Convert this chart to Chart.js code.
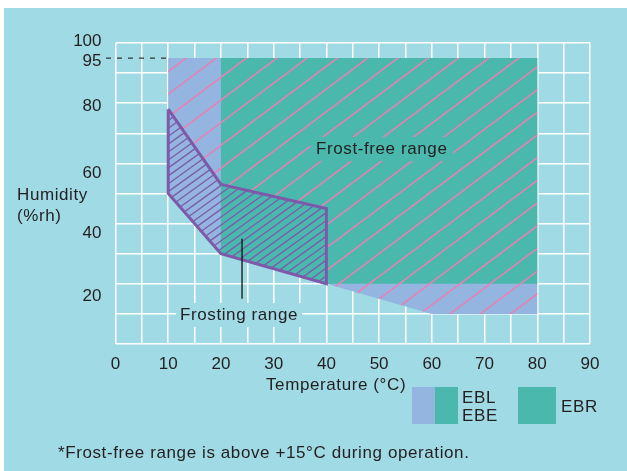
<!DOCTYPE html>
<html>
<head>
<meta charset="utf-8">
<script src="https://cdn.jsdelivr.net/npm/chart.js@4"></script>
<style>
  html, body { margin: 0; padding: 0; background: #fff; }
  #wrap { width: 627px; height: 471px; position: relative; }
</style>
</head>
<body>
<div id="wrap"><canvas id="frostChart"></canvas></div>
<script>
// regions: temperature (°C) / humidity (%rh)
const eblTemp = [10, 80, 80, 60, 40, 20, 10];
const eblHum = [95, 95, 10, 10, 20, 30, 50];
const ebrTemp = [20, 80, 80, 40, 20];
const ebrHum = [95, 95, 20, 20, 30];
const frostTemp = [10, 20, 40, 40, 20, 10, 10];
const frostHum = [78, 53, 45, 20, 30, 50, 78];
const pointerTemp = [24, 24];
const pointerHum = [35, 15];
const limitTemp = [-1.8, 10];
const limitHum = [95, 95];

const xGrid = [0, 5, 10, 15, 20, 25, 30, 35, 40, 45, 50, 55, 60, 65, 70, 75, 80, 85, 90];
const xTickLabels = [0, 10, 20, 30, 40, 50, 60, 70, 80, 90];
const yGrid = [0, 10, 20, 30, 40, 50, 60, 70, 80, 90, 95, 100];
const yTickLabels = [20, 40, 60, 80, 95, 100];

// the printed y labels sit a little off their grid lines (px, + is down)
const yLabelShift = {100: -2, 95: 3.5, 80: 3.5, 60: 9.5, 40: 9.5, 20: 13};

const BG = '#a0dae4';
const BLUE = '#93b5df';
const TEAL = '#4ab8ad';
const PINK = '#ec7fb1';
const PURPLE = '#7d5aa9';
const INK = '#231f20';

function points(xs, ys) {
    return xs.map((v, i) => ({x: v, y: ys[i]}));
}

function polyPath(ctx, chart, xs, ys) {
    const sx = chart.scales.x, sy = chart.scales.y;
    xs.forEach((v, i) => {
        const px = sx.getPixelForValue(v), py = sy.getPixelForValue(ys[i]);
        if (i === 0) ctx.moveTo(px, py); else ctx.lineTo(px, py);
    });
    ctx.closePath();
}

// parallel lines rising to the right, slope m (px), horizontal step h, through (ax, ay)
function hatchLines(ctx, area, m, h, ax, ay, color, width) {
    const c0 = m * ax + ay;
    const cMin = m * area.left + area.top;
    const cMax = m * area.right + area.bottom;
    const step = m * h;
    let c = c0 - Math.ceil((c0 - cMin) / step) * step;
    ctx.strokeStyle = color;
    ctx.lineWidth = width;
    ctx.beginPath();
    for (; c <= cMax; c += step) {
        ctx.moveTo(area.left, c - m * area.left);
        ctx.lineTo(area.right, c - m * area.right);
    }
    ctx.stroke();
}

function txt(ctx, s, x, y, align) {
    ctx.textAlign = align || 'left';
    ctx.fillText(s, x, y);
}

const paperPlugin = {
    id: 'paper',
    beforeDraw(chart) {
        const ctx = chart.ctx;
        ctx.save();
        ctx.fillStyle = '#fff';
        ctx.fillRect(0, 0, chart.width, chart.height);
        ctx.fillStyle = BG;
        ctx.fillRect(4, 8, chart.width - 4, chart.height - 8);
        ctx.restore();
    }
};

const hatchPlugin = {
    id: 'hatch',
    afterDatasetDraw(chart, args) {
        if (args.index !== 1) return; // right after the EBR fill
        const ctx = chart.ctx, area = chart.chartArea;
        const sx = chart.scales.x, sy = chart.scales.y;
        // frost-free range: pink
        ctx.save();
        ctx.beginPath();
        polyPath(ctx, chart, eblTemp, eblHum);
        polyPath(ctx, chart, frostTemp, frostHum);
        ctx.clip('evenodd');
        hatchLines(ctx, area, 0.75, 30.25, sx.getPixelForValue(13.4), sy.getPixelForValue(95), PINK, 1.5);
        ctx.restore();
        // frosting range: purple
        ctx.save();
        ctx.beginPath();
        polyPath(ctx, chart, frostTemp, frostHum);
        ctx.clip();
        hatchLines(ctx, area, 0.72, 11, sx.getPixelForValue(40), sy.getPixelForValue(20), PURPLE, 1.3);
        ctx.restore();
    }
};

const textPlugin = {
    id: 'texts',
    afterDraw(chart) {
        const ctx = chart.ctx;
        ctx.save();
        ctx.font = '17px "Liberation Sans", Arial, sans-serif';
        ctx.letterSpacing = '0.6px';
        ctx.textBaseline = 'alphabetic';

        // knockouts behind the in-plot labels
        ctx.fillStyle = TEAL;
        ctx.fillRect(311, 137, 142, 24);
        ctx.fillStyle = BG;
        ctx.fillRect(176, 303, 126, 24);

        ctx.fillStyle = INK;
        txt(ctx, 'Frost-free range', 316, 154);
        txt(ctx, 'Frosting range', 180, 320);
        txt(ctx, 'Humidity', 17, 200);
        txt(ctx, '(%rh)', 17, 221);
        txt(ctx, 'Temperature (°C)', 266, 390);

        // legend
        ctx.fillStyle = BLUE;
        ctx.fillRect(412, 387, 23, 37);
        ctx.fillStyle = TEAL;
        ctx.fillRect(435, 387, 23, 37);
        ctx.fillRect(518, 387, 38, 37);
        ctx.fillStyle = INK;
        txt(ctx, 'EBL', 462, 403);
        txt(ctx, 'EBE', 462, 421);
        txt(ctx, 'EBR', 561, 412);

        txt(ctx, '*Frost-free range is above +15°C during operation.', 58, 458);
        ctx.restore();
    }
};

Chart.defaults.font.family = '"Liberation Sans", Arial, sans-serif';
Chart.defaults.font.size = 17;
Chart.defaults.color = INK;

const ctx = document.getElementById('frostChart').getContext('2d');
const frostChart = new Chart(ctx, {
    type: 'line',
    data: {
        datasets: [
            {label: 'EBL/EBE', data: points(eblTemp, eblHum), backgroundColor: BLUE, borderWidth: 0, fill: 'shape', order: 5},
            {label: 'EBR', data: points(ebrTemp, ebrHum), backgroundColor: TEAL, borderWidth: 0, fill: 'shape', order: 4},
            {label: 'Frosting range', data: points(frostTemp, frostHum), borderColor: PURPLE, borderWidth: 3, borderJoinStyle: 'miter', fill: false, order: 3},
            {label: 'pointer', data: points(pointerTemp, pointerHum), borderColor: '#111', borderWidth: 1.3, fill: false, order: 2},
            {label: '95 limit', data: points(limitTemp, limitHum), borderColor: '#333', borderWidth: 1.3, borderDash: [5, 6], fill: false, clip: false, order: 1}
        ]
    },
    options: {
        responsive: true,
        maintainAspectRatio: false,
        animation: false,
        layout: {padding: {left: 0, right: 37, top: 43, bottom: 87}},
        elements: {point: {radius: 0, hoverRadius: 0}, line: {tension: 0}},
        plugins: {legend: {display: false}, tooltip: {enabled: false}},
        events: [],
        scales: {
            x: {
                type: 'linear',
                min: 0,
                max: 90,
                afterBuildTicks: (s) => { s.ticks = xGrid.map(v => ({value: v})); },
                afterFit: (s) => { s.height = 40; },
                ticks: {
                    autoSkip: false,
                    maxRotation: 0,
                    padding: 10,
                    callback: (v) => xTickLabels.includes(v) ? String(v) : ''
                },
                grid: {color: '#fff', lineWidth: 1.5, drawTicks: false},
                border: {display: false}
            },
            y: {
                min: 0,
                max: 100,
                afterBuildTicks: (s) => { s.ticks = yGrid.map(v => ({value: v})); },
                afterFit: (s) => { s.width = 115.5; },
                ticks: {
                    autoSkip: false,
                    padding: 14,
                    // a blank line above/below nudges the label off its grid line
                    callback: (v) => {
                        if (!yTickLabels.includes(v)) return '';
                        return yLabelShift[v] >= 0 ? ['', String(v)] : [String(v), ''];
                    },
                    font: (c) => {
                        const s = c.tick ? Math.abs(yLabelShift[c.tick.value] || 0) : 0;
                        return {size: 17, lineHeight: s ? (2 * s) + 'px' : 1.2};
                    }
                },
                grid: {
                    color: (c) => (c.tick && c.tick.value === 95) ? 'rgba(0,0,0,0)' : '#fff',
                    lineWidth: 1.5,
                    drawTicks: false
                },
                border: {display: false}
            }
        }
    },
    plugins: [paperPlugin, hatchPlugin, textPlugin]
});
</script>
</body>
</html>
